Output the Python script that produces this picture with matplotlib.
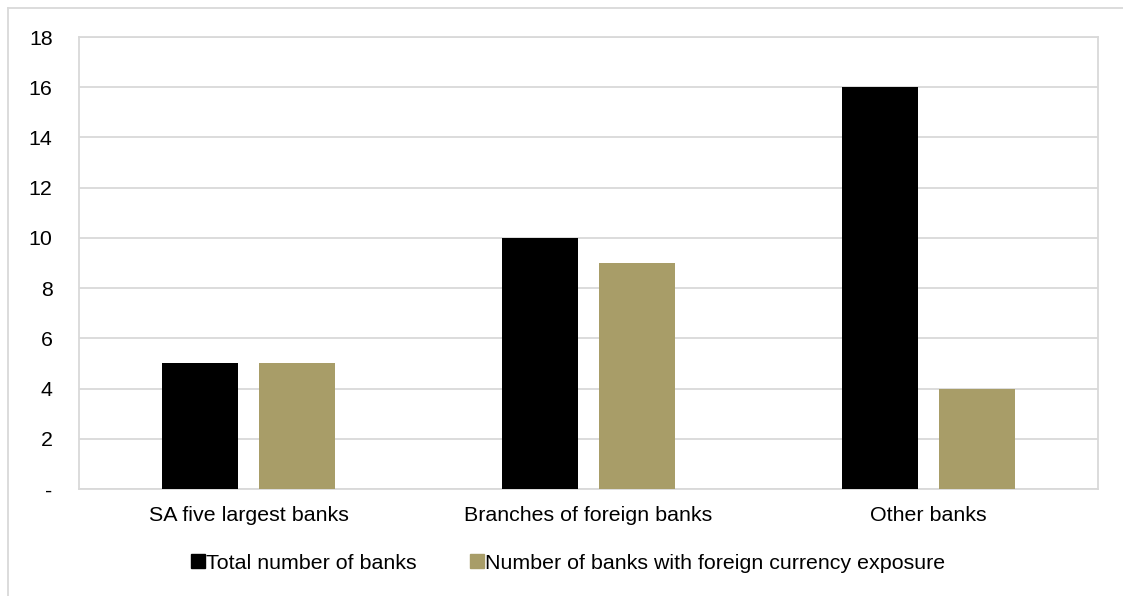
import numpy as np
import matplotlib.pyplot as plt
from matplotlib.lines import Line2D

plt.rcParams['font.family'] = ['Liberation Sans', 'DejaVu Sans']

categories = ['SA five largest banks', 'Branches of foreign banks', 'Other banks']
total_banks = [5, 10, 16]
fx_banks = [5, 9, 4]
series_names = ['Total number of banks', 'Number of banks with foreign currency exposure']
colors = ['#000000', '#A89D68']
yticks = [0, 2, 4, 6, 8, 10, 12, 14, 16, 18]

fig = plt.figure(figsize=(11.23, 5.96), dpi=100)
ax = fig.add_axes([0.0703, 0.1795, 0.9074, 0.7584])

x = np.arange(len(categories))
w = 0.224
off = 0.143
ax.bar(x - off, total_banks, w, color=colors[0], zorder=3)
ax.bar(x + off, fx_banks, w, color=colors[1], zorder=3)

ax.set_xlim(-0.5, len(categories) - 0.5)
ax.set_ylim(0, 18)
ax.set_yticks(yticks)
ax.set_yticklabels(['-' if v == 0 else str(v) for v in yticks])
ax.set_xticks(x)
ax.set_xticklabels(categories)
ax.tick_params(axis='y', length=0, pad=19, labelsize=15.4)
ax.tick_params(axis='x', length=0, pad=12, labelsize=15.4)
ax.grid(axis='y', color='#d9d9d9', linewidth=1.3, zorder=0)
for s in ax.spines.values():
    s.set_color('#d9d9d9')
    s.set_linewidth(1.3)

handles = [Line2D([], [], marker='s', linestyle='none', markersize=9.5, color=c) for c in colors]
fig.legend(handles, series_names, loc='center', bbox_to_anchor=(0.506, 0.055), ncol=2,
           frameon=False, fontsize=15.4, handlelength=0.6, handletextpad=0.1,
           columnspacing=2.5)

# outer frame (top and left edges)
fig.add_artist(Line2D([0.007, 1.0], [0.986, 0.986], color='#d9d9d9', linewidth=1.3))
fig.add_artist(Line2D([0.007, 0.007], [0.0, 0.986], color='#d9d9d9', linewidth=1.3))

fig.savefig('out.png', dpi=100)
